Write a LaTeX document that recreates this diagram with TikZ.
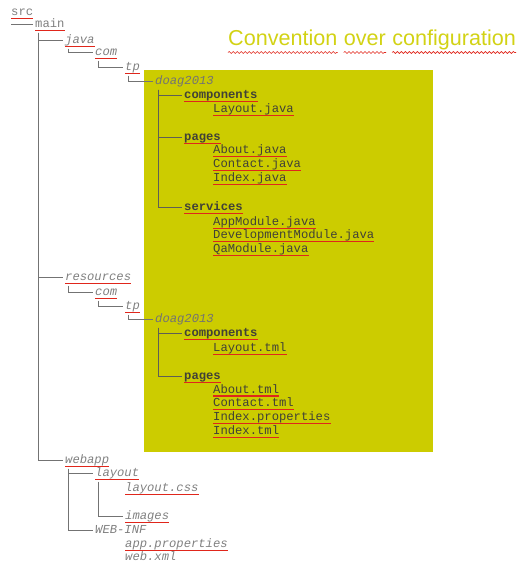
\documentclass[tikz,border=0pt]{standalone}
\usepackage{fontspec}
\setmainfont{Liberation Sans}
\newfontfamily\monof{Liberation Mono}
\usetikzlibrary{decorations.pathmorphing}
\definecolor{boxyellow}{RGB}{204,204,0}
\definecolor{titleyellow}{RGB}{210,210,20}
\definecolor{outgray}{RGB}{128,128,128}
\definecolor{indark}{RGB}{65,65,55}
\definecolor{ulred}{RGB}{224,38,27}
\newcommand\treelink[3][conn]{\draw[#1] ([xshift=3pt,yshift=-5pt]#2.base west) |- ([yshift=3.5pt]#3.base west);}
\begin{document}
\begin{tikzpicture}[x=1pt,y=-1pt,
  itm/.style={anchor=base west, inner sep=0pt, font=\monof\fontsize{12.2}{14}\selectfont},
  outup/.style={itm, text=outgray},
  outit/.style={itm, text=outgray, font=\monof\itshape\fontsize{12.2}{14}\selectfont},
  doagst/.style={itm, text=outgray!90!black, font=\monof\itshape\fontsize{12.2}{14}\selectfont},
  dirst/.style={itm, text=indark, font=\monof\bfseries\fontsize{12.2}{14}\selectfont},
  filest/.style={itm, text=indark},
  word/.style={anchor=base west, inner sep=0pt, text=titleyellow, font=\fontsize{21.6}{24}\selectfont},
  conn/.style={draw=outgray!90!black, line width=0.6pt, shorten >=2pt},
  connin/.style={draw=indark!85, line width=0.6pt, shorten >=2pt},
  uline/.style={draw=ulred, line width=1.7pt},
  wavy/.style={draw=ulred, line width=0.6pt, decorate, decoration={snake, amplitude=1pt, segment length=4pt}}
]
\useasboundingbox (0,0) rectangle (518,563);
\fill[boxyellow] (144,70) rectangle (433,452);

% title
\node[word] (w1) at (228,45) {Convention};
\node[word] (w2) at ([xshift=6pt]w1.base east) {over};
\node[word] (w3) at ([xshift=6pt]w2.base east) {configuration};
\foreach \w in {w1,w2,w3}
  \draw[wavy] ([yshift=-7.5pt]\w.base west) -- ([yshift=-7.5pt]\w.base east);

% tree
\node[outup] (src) at (11,15.5) {src};
\node[outup] (main) at (35,27.5) {main};
\node[outit] (java) at (65,43.5) {java};
\node[outit] (com1) at (95,55.5) {com};
\node[outit] (tp1) at (125,70.5) {tp};
\node[doagst] (doag1) at (155,84.5) {doag2013};
\node[dirst] (comp1) at (184,98.5) {components};
\node[filest] (layoutj) at (213,112.5) {Layout.java};
\node[dirst] (pages1) at (184,140.5) {pages};
\node[filest] (about1) at (213,153.5) {About.java};
\node[filest] (contact1) at (213,167.5) {Contact.java};
\node[filest] (index1) at (213,181.5) {Index.java};
\node[dirst] (services) at (184,210.5) {services};
\node[filest] (app) at (213,225.5) {AppModule.java};
\node[filest] (dev) at (213,238.5) {DevelopmentModule.java};
\node[filest] (qa) at (213,252.5) {QaModule.java};
\node[outit] (resources) at (65,280.5) {resources};
\node[outit] (com2) at (95,295.5) {com};
\node[outit] (tp2) at (125,309.5) {tp};
\node[doagst] (doag2) at (155,322.5) {doag2013};
\node[dirst] (comp2) at (184,336.5) {components};
\node[filest] (layoutt) at (213,351.5) {Layout.tml};
\node[dirst] (pages2) at (184,379.5) {pages};
\node[filest] (about2) at (213,393) {About.tml};
\node[filest] (contact2) at (213,406.5) {Contact.tml};
\node[filest] (indexp) at (213,420.5) {Index.properties};
\node[filest] (indext) at (213,434.5) {Index.tml};
\node[outit] (webapp) at (65,463.5) {webapp};
\node[outit] (layoutd) at (95,476.5) {layout};
\node[outit] (layoutcss) at (125,491.5) {layout.css};
\node[outit] (images) at (125,519.5) {images};
\node[outit] (webinf) at (95,533.5) {WEB-INF};
\node[outit] (appprops) at (125,547.5) {app.properties};
\node[outit] (webxml) at (125,560.5) {web.xml};

% underlines
\foreach \n in {src,main,java,com1,tp1,comp1,layoutj,pages1,about1,contact1,index1,services,app,dev,qa,resources,com2,tp2,comp2,layoutt,pages2,about2,contact2,indexp,indext,webapp,layoutd,layoutcss,images,appprops}
  \draw[uline] ([yshift=-3pt]\n.base west) -- ([yshift=-3pt]\n.base east);

% connectors
\path ([yshift=3.5pt]main.base west) coordinate (mainc);
\draw[conn] (mainc -| src.base west) -- (mainc);
\treelink{main}{java}
\treelink{main}{resources}
\treelink{main}{webapp}
\treelink{java}{com1}
\treelink{com1}{tp1}
\treelink{tp1}{doag1}
\treelink[connin]{doag1}{comp1}
\treelink[connin]{doag1}{pages1}
\treelink[connin]{doag1}{services}
\treelink{resources}{com2}
\treelink{com2}{tp2}
\treelink{tp2}{doag2}
\treelink[connin]{doag2}{comp2}
\treelink[connin]{doag2}{pages2}
\treelink{webapp}{layoutd}
\treelink{webapp}{webinf}
\treelink{layoutd}{images}
\end{tikzpicture}
\end{document}
